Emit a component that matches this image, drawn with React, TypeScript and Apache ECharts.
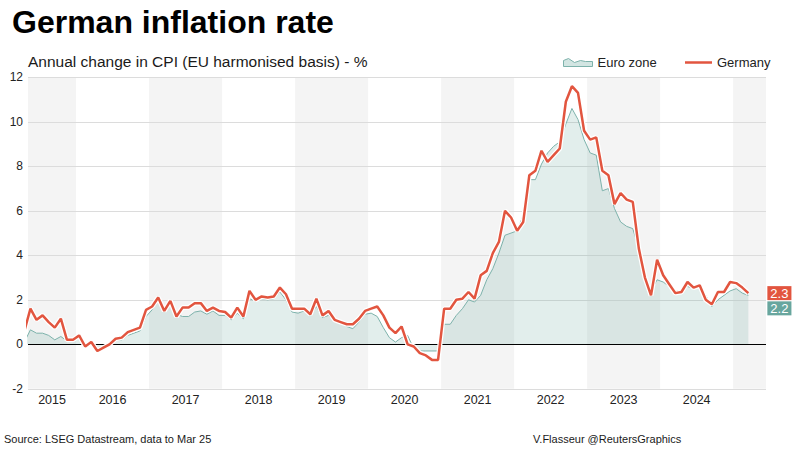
import React, { useEffect, useRef } from "react";
import * as echarts from "echarts";

const FONT = "'Liberation Sans', Arial, Helvetica, sans-serif";

// Monthly annual-change values, first month = Apr 2015, last = Mar 2025
const firstMonth = { year: 2015, month: 4 };

const germany = [
  // 2015 Apr–Dec
  0.6, 1.6, 1.1, 1.3, 1.0, 0.75, 1.15, 0.2, 0.2,
  // 2016
  0.4, -0.1, 0.1, -0.3, -0.15, 0.0, 0.25, 0.3, 0.55, 0.65, 0.75, 1.55,
  // 2017
  1.7, 2.1, 1.5, 1.95, 1.25, 1.65, 1.65, 1.85, 1.85, 1.5, 1.65, 1.5,
  // 2018
  1.45, 1.2, 1.65, 1.25, 2.4, 2.0, 2.15, 2.1, 2.15, 2.55, 2.25, 1.6,
  // 2019
  1.6, 1.6, 1.35, 2.05, 1.3, 1.5, 1.1, 1.0, 0.9, 0.9, 1.15, 1.5,
  // 2020
  1.6, 1.7, 1.3, 0.75, 0.5, 0.8, 0.0, -0.1, -0.4, -0.5, -0.7, -0.7,
  // 2021
  1.6, 1.6, 2.0, 2.05, 2.35, 2.05, 3.1, 3.3, 4.1, 4.6, 6.0, 5.7,
  // 2022
  5.1, 5.5, 7.6, 7.8, 8.7, 8.2, 8.5, 8.8, 10.9, 11.6, 11.3, 9.6,
  // 2023
  9.2, 9.3, 7.8, 7.6, 6.3, 6.8, 6.5, 6.4, 4.3, 3.0, 2.2, 3.8,
  // 2024
  3.1, 2.7, 2.3, 2.35, 2.8, 2.55, 2.65, 2.0, 1.8, 2.35, 2.35, 2.8,
  // 2025 Jan–Mar
  2.75, 2.55, 2.3,
];

const euroZone = [
  // 2015 Apr–Dec
  0.1, 0.65, 0.5, 0.5, 0.4, 0.2, 0.35, 0.15, 0.15,
  // 2016
  0.3, -0.15, 0.0, -0.25, -0.1, 0.1, 0.2, 0.2, 0.4, 0.5, 0.6, 1.25,
  // 2017
  1.55, 1.95, 1.45, 1.85, 1.35, 1.25, 1.25, 1.45, 1.5, 1.35, 1.5, 1.3,
  // 2018
  1.3, 1.1, 1.4, 1.15, 2.05, 1.95, 2.05, 2.0, 2.05, 2.35, 2.0, 1.45,
  // 2019
  1.4, 1.5, 1.3, 1.7, 1.2, 1.3, 1.05, 1.0, 0.8, 0.7, 1.0, 1.35,
  // 2020
  1.4, 1.25, 0.75, 0.3, 0.1, 0.3, 0.4, -0.2, -0.3, -0.3, -0.3, -0.3,
  // 2021
  0.9, 0.9, 1.3, 1.6, 2.0, 1.9, 2.2, 2.9, 3.4, 4.1, 4.9, 5.0,
  // 2022
  5.1, 5.8, 7.4, 7.4, 8.1, 8.6, 8.9, 9.1, 9.9, 10.6, 10.1, 9.2,
  // 2023
  8.6, 8.5, 6.9, 7.0, 6.1, 5.5, 5.3, 5.2, 4.3, 2.9, 2.4, 2.9,
  // 2024
  2.8, 2.6, 2.4, 2.4, 2.6, 2.5, 2.6, 2.2, 1.7, 2.0, 2.2, 2.4,
  // 2025 Jan–Mar
  2.5, 2.3, 2.2,
];

// Year labels along the x axis
const years = [2015, 2016, 2017, 2018, 2019, 2020, 2021, 2022, 2023, 2024];
// Years drawn with a grey background band
const bandYears = [2015, 2017, 2019, 2021, 2023, 2025];

const BASE_YEAR = 2015;
// x-axis range, in months since Jan 2015
const X_MIN = 4.1;
const X_MAX = 125.4;

const RED = "#e2553f";
const TEAL_LINE = "#7db2ab";
const TEAL_BOX = "#68a69e";
const TEAL_FILL = "rgba(106,168,160,0.28)";

const EURO_ICON =
  "path://M0,2 L5,0 L11,4 L17,2 L22,3 L29,3 L29,8 L0,8 Z";

export default function App() {
  const ref = useRef<HTMLDivElement>(null);

  useEffect(() => {
    if (!ref.current) return;
    const chart = echarts.init(ref.current, undefined, {
      renderer: "svg",
      width: 800,
      height: 450,
    });

    const toX = (i: number) =>
      (firstMonth.year - BASE_YEAR) * 12 + (firstMonth.month - 1) + i + 0.5;
    const gerData = germany.map((v, i) => [toX(i), v]);
    const euData = euroZone.map((v, i) => [toX(i), v]);

    const labelValues = years.map((y) => {
      const s = Math.max((y - BASE_YEAR) * 12, X_MIN);
      const e = Math.min((y - BASE_YEAR + 1) * 12, X_MAX);
      return (s + e) / 2;
    });

    const bands = bandYears.map((y) => [
      { xAxis: Math.max((y - BASE_YEAR) * 12, X_MIN) },
      { xAxis: Math.min((y - BASE_YEAR + 1) * 12, X_MAX) },
    ]);

    const legendText = { fontFamily: FONT, fontSize: 13, color: "#222" };

    const option: any = {
      animation: false,
      backgroundColor: "#ffffff",
      textStyle: { fontFamily: FONT },
      title: [
        {
          text: "German inflation rate",
          left: 12,
          top: 6,
          padding: 0,
          textStyle: { fontFamily: FONT, fontSize: 32, fontWeight: "bold", color: "#000" },
        },
        {
          text: "Annual change in CPI (EU harmonised basis) - %",
          left: 28,
          top: 53,
          padding: 0,
          textStyle: { fontFamily: FONT, fontSize: 15.5, fontWeight: "normal", color: "#1a1a1a" },
        },
        {
          text: "Source: LSEG Datastream, data to Mar 25",
          left: 4,
          top: 433,
          padding: 0,
          textStyle: { fontFamily: FONT, fontSize: 11, fontWeight: "normal", color: "#1a1a1a" },
        },
        {
          text: "V.Flasseur @ReutersGraphics",
          left: 533,
          top: 433,
          padding: 0,
          textStyle: { fontFamily: FONT, fontSize: 11, fontWeight: "normal", color: "#1a1a1a" },
        },
      ],
      legend: [
        {
          data: [
            {
              name: "Euro zone",
              icon: EURO_ICON,
              itemStyle: { color: "#d2e5e2", borderColor: TEAL_LINE, borderWidth: 1 },
            },
          ],
          left: 563,
          top: 56,
          padding: 0,
          itemWidth: 29,
          itemHeight: 8,
          selectedMode: false,
          textStyle: legendText,
        },
        {
          data: [{ name: "Germany", icon: "rect", itemStyle: { color: RED, borderWidth: 0 } }],
          left: 685,
          top: 56,
          padding: 0,
          itemWidth: 27,
          itemHeight: 2.5,
          selectedMode: false,
          textStyle: legendText,
        },
      ],
      grid: { left: 28, right: 34, top: 77.3, bottom: 61.2, containLabel: false },
      xAxis: {
        type: "value",
        min: X_MIN,
        max: X_MAX,
        axisLine: { show: false },
        axisTick: { show: false },
        splitLine: { show: false },
        axisLabel: {
          customValues: labelValues,
          formatter: (v: number) => String(BASE_YEAR + Math.floor(v / 12)),
          fontFamily: FONT,
          fontSize: 12.5,
          color: "#222",
          margin: 5,
        },
      },
      yAxis: {
        type: "value",
        min: -2,
        max: 12,
        interval: 2,
        z: 1,
        axisLine: { show: false },
        axisTick: { show: false },
        splitLine: { lineStyle: { color: "#dcdcdc", width: 1 } },
        axisLabel: { fontFamily: FONT, fontSize: 12, color: "#222", margin: 5 },
      },
      series: [
        {
          name: "Euro zone",
          type: "line",
          data: euData,
          symbol: "none",
          showSymbol: false,
          z: 3,
          lineStyle: { color: TEAL_LINE, width: 1 },
          itemStyle: { color: TEAL_LINE },
          areaStyle: { color: TEAL_FILL },
          endLabel: {
            show: true,
            formatter: (p: any) => Number(p.value[1]).toFixed(1),
            color: "#fff",
            backgroundColor: TEAL_BOX,
            padding: [1, 3, 0, 3],
            fontFamily: FONT,
            fontSize: 13,
            distance: 19,
            offset: [0, 13],
          },
          markArea: {
            silent: true,
            z: 0,
            itemStyle: { color: "#f4f4f4" },
            label: { show: false },
            data: bands,
          },
          markLine: {
            silent: true,
            symbol: ["none", "none"],
            label: { show: false },
            lineStyle: { color: "#000", width: 1, type: "solid" },
            data: [{ yAxis: 0 }],
          },
        },
        {
          name: "halo",
          type: "line",
          data: gerData,
          symbol: "none",
          showSymbol: false,
          silent: true,
          z: 6,
          lineStyle: { color: "#ffffff", width: 5 },
        },
        {
          name: "Germany",
          type: "line",
          data: gerData,
          symbol: "none",
          showSymbol: false,
          z: 7,
          lineStyle: { color: RED, width: 2.5 },
          itemStyle: { color: RED },
          endLabel: {
            show: true,
            formatter: (p: any) => Number(p.value[1]).toFixed(1),
            color: "#fff",
            backgroundColor: RED,
            padding: [1, 3, 0, 3],
            fontFamily: FONT,
            fontSize: 13,
            distance: 19,
          },
        },
      ],
    };

    chart.setOption(option);
    return () => chart.dispose();
  }, []);

  return (
    <div
      ref={ref}
      style={{ position: "fixed", left: 0, top: 0, width: 800, height: 450, background: "#fff" }}
    />
  );
}
